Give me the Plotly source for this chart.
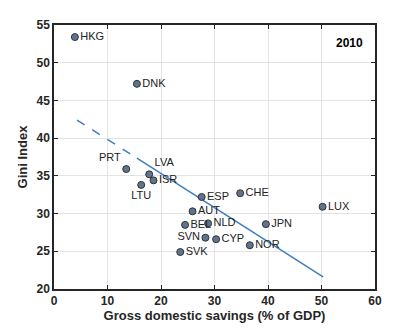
"""Gini index vs gross domestic savings, 2010."""

import plotly.graph_objects as go

countries = ["HKG", "DNK", "PRT", "LVA", "ISR", "LTU", "ESP", "AUT", "BEL",
             "NLD", "SVN", "SVK", "CHE", "CYP", "NOR", "JPN", "LUX"]
savings = [3.9, 15.5, 13.5, 17.8, 18.6, 16.3, 27.6, 25.9, 24.5,
           28.8, 28.3, 23.6, 34.8, 30.3, 36.6, 39.6, 50.2]
gini = [53.4, 47.2, 35.9, 35.2, 34.4, 33.8, 32.2, 30.3, 28.5,
        28.7, 26.8, 24.9, 32.7, 26.6, 25.8, 28.6, 30.9]
label_pos = ["middle right", "middle right", "top left", "top right", "middle right",
             "bottom center", "middle right", "middle right", "middle right",
             "middle right", "middle left", "middle right", "middle right",
             "middle right", "middle right", "middle right", "middle right"]

# fitted line endpoints: dashed part then solid part
trend_dash_x = [4.3, 15.5]
trend_dash_y = [42.4, 37.35]
trend_solid_x = [15.5, 50.3]
trend_solid_y = [37.35, 21.6]

line_color = "#3d7ebf"
font_fam = "Liberation Sans, Arial"

fig = go.Figure()
fig.add_trace(go.Scatter(x=trend_dash_x, y=trend_dash_y, mode="lines",
                         line=dict(color=line_color, width=1.5, dash="dash"),
                         showlegend=False, hoverinfo="skip"))
fig.add_trace(go.Scatter(x=trend_solid_x, y=trend_solid_y, mode="lines",
                         line=dict(color=line_color, width=1.5),
                         showlegend=False, hoverinfo="skip"))
fig.add_trace(go.Scatter(
    x=savings, y=gini, mode="markers+text", text=countries,
    textposition=label_pos,
    textfont=dict(family=font_fam, size=11, color="#222222"),
    marker=dict(size=7, color="#62738a", line=dict(color="#2b3540", width=1)),
    showlegend=False,
))

fig.add_annotation(text="<b>2010</b>", x=0.97, y=0.93, xref="paper", yref="paper",
                   xanchor="right", yanchor="middle", showarrow=False,
                   font=dict(family=font_fam, size=12, color="black"))

axis_common = dict(
    showline=True, linecolor="#262626", linewidth=1.5, mirror="ticks",
    ticks="inside", ticklen=4, tickcolor="#262626", tickwidth=1,
    showgrid=True, gridcolor="#e3e3e3", gridwidth=1, zeroline=False,
    automargin=False,
    tickfont=dict(family=font_fam, size=12, color="#262626", weight="bold"),
)

fig.update_xaxes(range=[0, 60], dtick=10, **axis_common,
                 title=dict(text="<b>Gross domestic savings (% of GDP)</b>", standoff=2,
                            font=dict(family=font_fam, size=13, color="#262626")))
fig.update_yaxes(range=[20, 55], dtick=5, **axis_common,
                 title=dict(text="<b>Gini Index</b>", standoff=6,
                            font=dict(family=font_fam, size=13, color="#262626")))

# the page adds an 8px body margin, so the figure is sized to fit inside it
fig.update_layout(
    width=407, height=320,
    margin=dict(l=46, r=40, t=17, b=39),
    plot_bgcolor="white", paper_bgcolor="white",
)

fig.write_html("out.html")
